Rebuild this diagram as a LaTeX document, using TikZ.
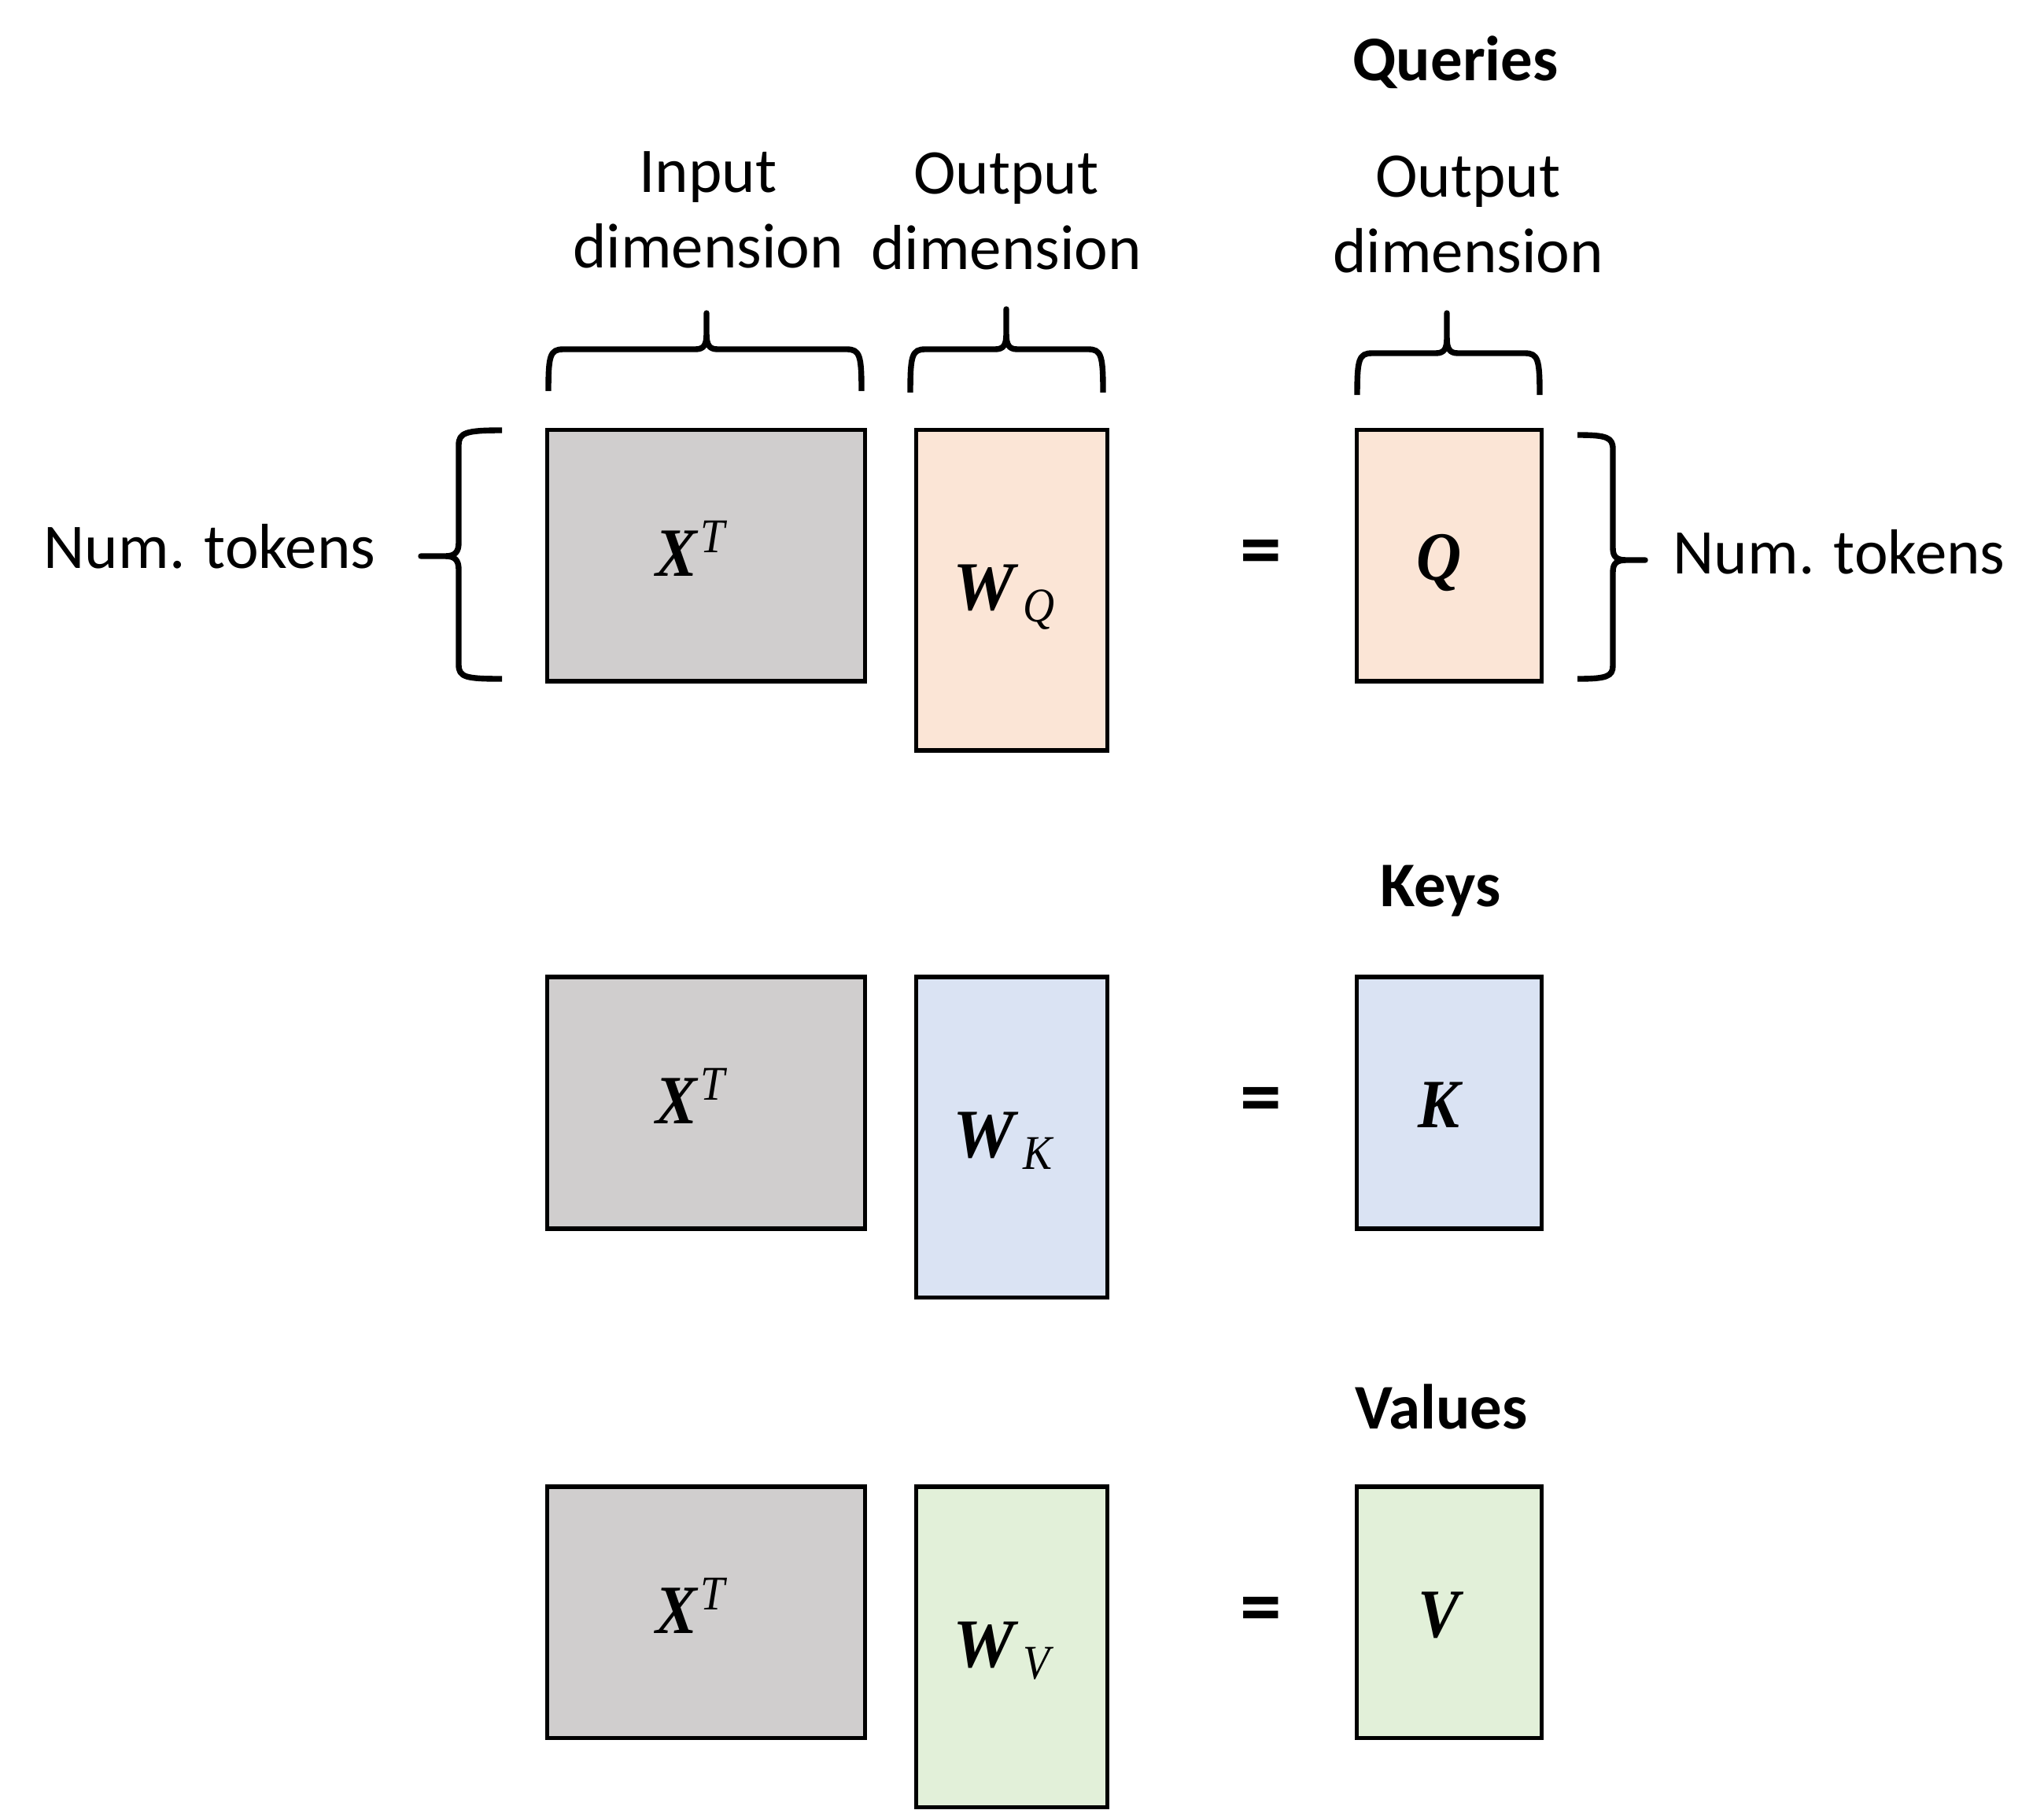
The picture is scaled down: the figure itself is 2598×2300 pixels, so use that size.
\documentclass[tikz,border=0pt]{standalone}
\usepackage{fontspec}
\setmainfont{Carlito}
\newfontfamily\mfont[FakeStretch=0.9]{Liberation Serif}
\newfontfamily\mfontw{Liberation Serif}
\definecolor{xgray}{HTML}{D0CECE}
\definecolor{qorange}{HTML}{FBE5D6}
\definecolor{kblue}{HTML}{DAE3F3}
\definecolor{vgreen}{HTML}{E2F0D9}
\newcommand\lbl{\fontsize{23}{27.3}\selectfont}
\newcommand\bigM[1]{{\fontsize{25}{25}\selectfont\mfont\bfseries\itshape #1}}
\newcommand\smallM[1]{{\fontsize{17.5}{17.5}\selectfont\mfont\itshape #1}}
\newcommand\mXT{\bigM{X}\kern1pt\raisebox{8.5pt}{\smallM{T}}}
\newcommand\mW[1]{{\fontsize{25}{25}\selectfont\mfontw\bfseries\itshape W}\kern3pt\raisebox{-4.3pt}{\smallM{#1}}}
\begin{document}
\begin{tikzpicture}[x=0.01cm,y=-0.01cm,
  mat/.style={draw=black, line width=1.5pt, inner sep=0pt, anchor=north west},
  xmat/.style={mat, fill=xgray, minimum width=4.043cm, minimum height=3.197cm},
  wmat/.style={mat, minimum width=2.435cm, minimum height=4.075cm},
  omat/.style={mat, minimum width=2.353cm, minimum height=3.197cm},
  brc/.style={draw=black, line width=2.1pt, line join=round, line cap=butt},
  lab/.style={inner sep=0pt, align=center, font=\lbl},
  eqs/.style={inner sep=0pt, font=\fontsize{30}{30}\selectfont\bfseries},
  mlab/.style={inner sep=0pt}]
\useasboundingbox (0,0) rectangle (2598,2300);

% ---------- row 1 : queries ----------
\node[xmat] (x1) at (692.6,543.5) {};
\node[wmat, fill=qorange] (wq) at (1161.5,543.5) {};
\node[omat, fill=qorange] (q) at (1721.5,543.5) {};
\node[mlab, anchor=base west] (x1t) at (833,732) {\mXT};
\node[mlab, anchor=base west] (wqt) at (1211,775) {\mW{Q}};
\node[mlab, anchor=base] (qt) at (1829,737) {\bigM{Q}};
\node[eqs] (eq1) at (1603,710) {=};

% ---------- row 2 : keys ----------
\node[xmat] (x2) at (692.6,1239.4) {};
\node[wmat, fill=kblue] (wk) at (1161.5,1239.4) {};
\node[omat, fill=kblue] (k) at (1721.5,1239.4) {};
\node[mlab, anchor=base west] (x2t) at (833,1428) {\mXT};
\node[mlab, anchor=base west] (wkt) at (1211,1471) {\mW{K}};
\node[mlab, anchor=base] (kt) at (1829,1433) {\bigM{K}};
\node[eqs] (eq2) at (1603,1406) {=};

% ---------- row 3 : values ----------
\node[xmat] (x3) at (692.6,1887.2) {};
\node[wmat, fill=vgreen] (wv) at (1161.5,1887.2) {};
\node[omat, fill=vgreen] (v) at (1721.5,1887.2) {};
\node[mlab, anchor=base west] (x3t) at (833,2076) {\mXT};
\node[mlab, anchor=base west] (wvt) at (1211,2119) {\mW{V}};
\node[mlab, anchor=base] (vt) at (1829,2081) {\bigM{V}};
\node[eqs] (eq3) at (1603,2054) {=};

% ---------- titles ----------
\node[lab, anchor=base, font=\lbl\bfseries] (queries) at (1850,103) {Queries};
\node[lab, anchor=base, font=\lbl\bfseries] (keys) at (1831,1152) {Keys};
\node[lab, anchor=base, font=\lbl\bfseries] (values) at (1832,1816) {Values};

% ---------- dimension labels ----------
\node[lab] (indim) at (900,267) {Input\\dimension};
\node[lab] (wdim) at (1279,269) {Output\\dimension};
\node[lab] (qdim) at (1866,273) {Output\\dimension};
\node[lab, anchor=base west] (ntl) at (55,722) {Num. tokens};
\node[lab, anchor=base west] (ntr) at (2126,729) {Num. tokens};

% ---------- top braces ----------
% brace over X^T
\draw[brc] (697,497) .. controls (697,452) and (699,444) .. (716,444)
  -- (884,444) .. controls (895,444) and (898,438) .. (898,424) -- (898,398)
  -- (898,424) .. controls (898,438) and (901,444) .. (912,444)
  -- (1076,444) .. controls (1093,444) and (1095,452) .. (1095,497);
% brace over W_Q
\draw[brc] (1157,499) .. controls (1157,452) and (1159,444) .. (1176,444)
  -- (1265,444) .. controls (1276,444) and (1279,438) .. (1279,424) -- (1279,393)
  -- (1279,424) .. controls (1279,438) and (1282,444) .. (1293,444)
  -- (1383,444) .. controls (1400,444) and (1402,452) .. (1402,499);
% brace over Q
\draw[brc] (1725,502) .. controls (1725,457) and (1727,449) .. (1744,449)
  -- (1825,449) .. controls (1836,449) and (1839,443) .. (1839,429) -- (1839,398)
  -- (1839,429) .. controls (1839,443) and (1842,449) .. (1853,449)
  -- (1938,449) .. controls (1955,449) and (1957,457) .. (1957,502);

% ---------- side braces ----------
% left brace (num. tokens of X^T)
\draw[brc] (638,547) .. controls (592,547) and (583,550) .. (583,566)
  -- (583,690) .. controls (583,702) and (578,707) .. (566,707) -- (535,707)
  -- (566,707) .. controls (578,707) and (583,712) .. (583,724)
  -- (583,845) .. controls (583,861) and (592,863) .. (638,863);
% right brace (num. tokens of Q)
\draw[brc] (2005,553) .. controls (2042,553) and (2050,556) .. (2050,571)
  -- (2050,697) .. controls (2050,708) and (2055,712) .. (2067,712) -- (2091,712)
  -- (2067,712) .. controls (2055,712) and (2050,716) .. (2050,727)
  -- (2050,846) .. controls (2050,860) and (2042,863) .. (2005,863);
\end{tikzpicture}
\end{document}
